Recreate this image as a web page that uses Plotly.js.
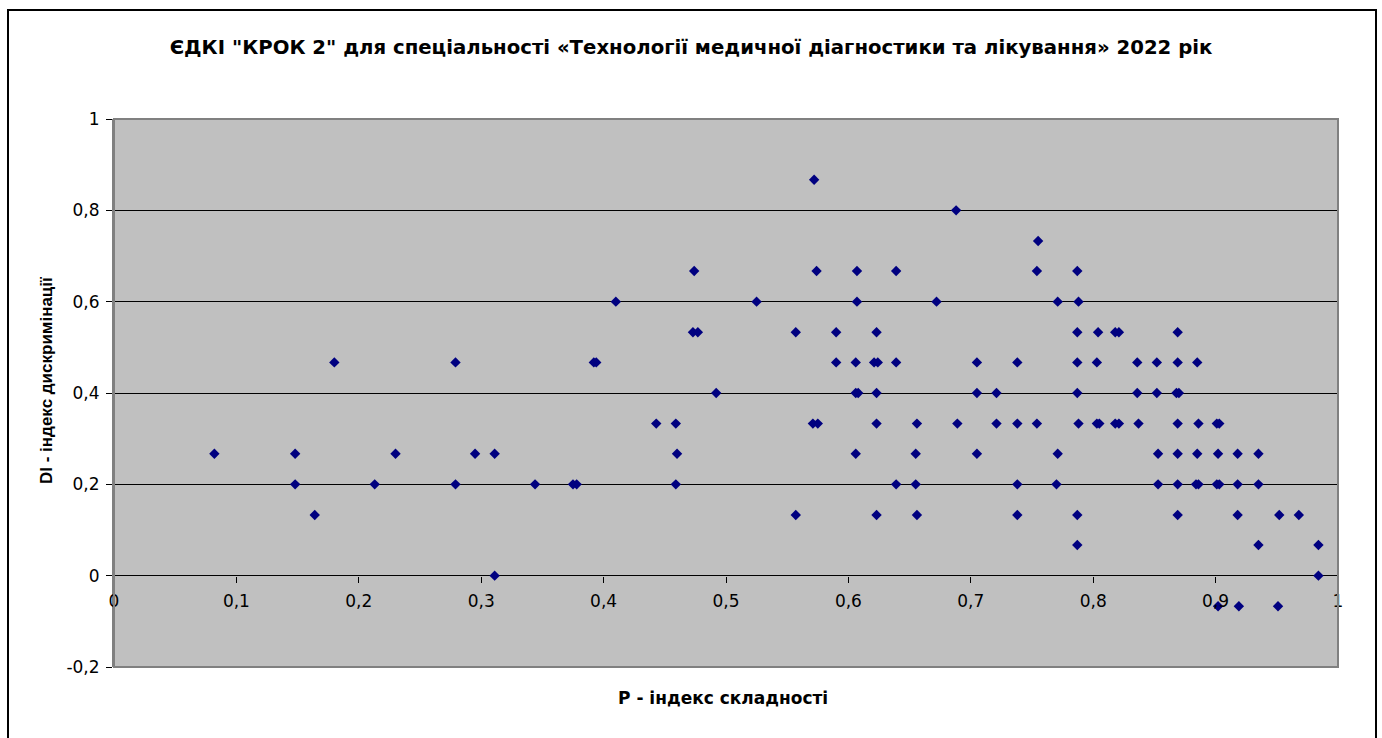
<!DOCTYPE html>
<html>
<head>
<meta charset="utf-8">
<script src="https://cdn.plot.ly/plotly-3.0.1.min.js"></script>
<style>
  html, body { margin: 0; padding: 0; background: #ffffff; }
  #chart { width: 1382px; height: 738px; }
  #frame { position: absolute; left: 7px; top: 9px; width: 1366px; height: 740px; border: 2px solid #000; pointer-events: none; }
</style>
</head>
<body>
<div id="chart"></div>
<div id="frame"></div>
<script>
// P - difficulty index (x), DI - discrimination index (y)
const pIndex = [
  0.082, 0.148, 0.148, 0.164, 0.180, 0.213, 0.230, 0.279, 0.279, 0.295,
  0.311, 0.311, 0.344, 0.375, 0.378, 0.392, 0.394, 0.410, 0.443, 0.459,
  0.460, 0.459, 0.474, 0.473, 0.477, 0.492, 0.525, 0.557, 0.557, 0.572,
  0.574, 0.571, 0.575, 0.590, 0.590, 0.607, 0.607, 0.606, 0.606, 0.608,
  0.606, 0.623, 0.621, 0.624, 0.623, 0.623, 0.623, 0.639, 0.639, 0.639,
  0.656, 0.655, 0.655, 0.656, 0.672, 0.688, 0.689, 0.705, 0.705, 0.705,
  0.721, 0.721, 0.738, 0.738, 0.738, 0.738, 0.755, 0.754, 0.754, 0.771,
  0.771, 0.770, 0.787, 0.788, 0.787, 0.787, 0.787, 0.788, 0.787, 0.787,
  0.804, 0.803, 0.803, 0.805, 0.818, 0.821, 0.818, 0.821, 0.836, 0.836,
  0.837, 0.852, 0.852, 0.853, 0.853, 0.869, 0.869, 0.868, 0.870, 0.869,
  0.869, 0.869, 0.869, 0.885, 0.886, 0.885, 0.884, 0.886, 0.901, 0.903,
  0.902, 0.901, 0.903, 0.902, 0.918, 0.918, 0.918, 0.919, 0.935, 0.935,
  0.935, 0.952, 0.951, 0.968, 0.984, 0.984
];
const diIndex = [
  0.267, 0.267, 0.200, 0.133, 0.467, 0.200, 0.267, 0.467, 0.200, 0.267,
  0.267, 0.000, 0.200, 0.200, 0.200, 0.467, 0.467, 0.600, 0.333, 0.333,
  0.267, 0.200, 0.667, 0.533, 0.533, 0.400, 0.600, 0.533, 0.133, 0.867,
  0.667, 0.333, 0.333, 0.533, 0.467, 0.667, 0.600, 0.467, 0.400, 0.400,
  0.267, 0.533, 0.467, 0.467, 0.400, 0.333, 0.133, 0.667, 0.467, 0.200,
  0.333, 0.267, 0.200, 0.133, 0.600, 0.800, 0.333, 0.467, 0.400, 0.267,
  0.400, 0.333, 0.467, 0.333, 0.200, 0.133, 0.733, 0.667, 0.333, 0.600,
  0.267, 0.200, 0.667, 0.600, 0.533, 0.467, 0.400, 0.333, 0.133, 0.067,
  0.533, 0.467, 0.333, 0.333, 0.533, 0.533, 0.333, 0.333, 0.467, 0.400,
  0.333, 0.467, 0.400, 0.267, 0.200, 0.533, 0.467, 0.400, 0.400, 0.333,
  0.267, 0.200, 0.133, 0.467, 0.333, 0.267, 0.200, 0.200, 0.333, 0.333,
  0.267, 0.200, 0.200, -0.067, 0.267, 0.200, 0.133, -0.067, 0.267, 0.200,
  0.067, 0.133, -0.067, 0.133, 0.067, 0.000
];

const xTickVals = [0, 0.1, 0.2, 0.3, 0.4, 0.5, 0.6, 0.7, 0.8, 0.9, 1];
const xTickText = ["0", "0,1", "0,2", "0,3", "0,4", "0,5", "0,6", "0,7", "0,8", "0,9", "1"];
const yTickVals = [-0.2, 0, 0.2, 0.4, 0.6, 0.8, 1];
const yTickText = ["-0,2", "0", "0,2", "0,4", "0,6", "0,8", "1"];

const chartTitle = 'ЄДКІ "КРОК 2" для спеціальності «Технології медичної діагностики та лікування» 2022 рік';
const xTitle = 'P - індекс складності';
const yTitle = 'DI - індекс дискримінації';

const WIDE = 'DejaVu Sans, Verdana, sans-serif';
const ARIAL = 'Liberation Sans, Arial, sans-serif';

const trace = {
  x: pIndex,
  y: diIndex,
  type: 'scatter',
  mode: 'markers',
  marker: { symbol: 'diamond', size: 8, color: '#000080', line: { width: 0 } },
  hoverinfo: 'x+y'
};

const layout = {
  width: 1382,
  height: 738,
  margin: { l: 114, r: 44, t: 119, b: 71 },
  paper_bgcolor: '#ffffff',
  plot_bgcolor: '#c0c0c0',
  showlegend: false,
  font: { family: WIDE, size: 17, color: '#000' },
  title: {
    text: '<b>' + chartTitle + '</b>',
    font: { family: WIDE, size: 19.7, color: '#000' },
    x: 0.5, xref: 'container', xanchor: 'center',
    y: 1 - 47 / 738, yref: 'container', yanchor: 'middle'
  },
  xaxis: {
    range: [0, 1],
    anchor: 'free',
    position: 0.2 / 1.2,
    tickmode: 'array',
    tickvals: xTickVals,
    ticktext: xTickText,
    ticks: 'outside',
    ticklen: 6,
    tickwidth: 1,
    tickcolor: '#000',
    ticklabelstandoff: 4,
    showgrid: false,
    zeroline: false,
    showline: false,
    tickfont: { family: WIDE, size: 17, color: '#000' },
    fixedrange: true
  },
  yaxis: {
    range: [-0.2, 1],
    tickmode: 'array',
    tickvals: yTickVals,
    ticktext: yTickText,
    ticks: 'outside',
    ticklen: 6,
    tickwidth: 1,
    tickcolor: '#000',
    ticklabelstandoff: 3,
    showgrid: true,
    gridcolor: '#000000',
    gridwidth: 1,
    zeroline: true,
    zerolinecolor: '#000000',
    zerolinewidth: 1,
    showline: true,
    linecolor: '#808080',
    linewidth: 2,
    tickfont: { family: WIDE, size: 17, color: '#000' },
    fixedrange: true
  },
  shapes: [{
    type: 'rect', xref: 'paper', yref: 'paper', x0: 0, x1: 1, y0: 0, y1: 1,
    line: { color: '#808080', width: 2 }, fillcolor: 'rgba(0,0,0,0)', layer: 'above'
  }],
  annotations: [
    {
      text: '<b>' + xTitle + '</b>', xref: 'paper', yref: 'paper',
      x: (723 - 114) / 1224, y: (667 - 698) / 548, xanchor: 'center', yanchor: 'middle',
      showarrow: false, font: { family: WIDE, size: 17, color: '#000' }
    },
    {
      text: '<b>' + yTitle + '</b>', xref: 'paper', yref: 'paper',
      x: (47 - 114) / 1224, y: (667 - 380) / 548, xanchor: 'center', yanchor: 'middle',
      textangle: -90, showarrow: false, font: { family: ARIAL, size: 17, color: '#000' }
    }
  ]
};

Plotly.newPlot('chart', [trace], layout, { displayModeBar: false, staticPlot: true });
</script>
</body>
</html>
